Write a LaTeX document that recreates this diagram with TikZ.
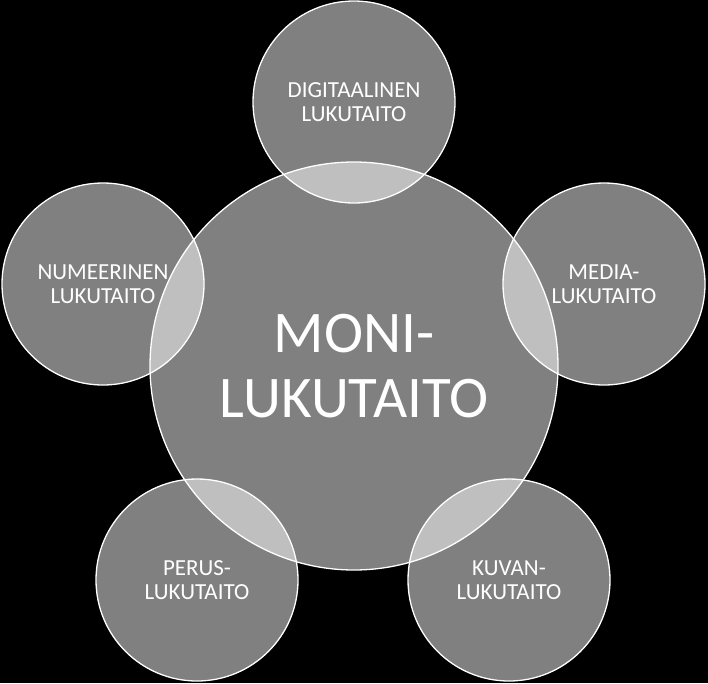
\documentclass[tikz,border=0pt]{standalone}
\usepackage{fontspec}
\setmainfont{Carlito}
\begin{document}
\begin{tikzpicture}[x=1pt,y=-1pt,
  bubble/.style={circle,draw=white,line width=1.3pt,fill=white,fill opacity=0.5,text opacity=1,text=white,inner sep=0pt,align=center},
  big/.style={bubble,minimum size=408pt,font=\fontsize{59}{65}\selectfont},
  small/.style={bubble,minimum size=202pt,font=\fontsize{23}{24}\selectfont}]
\fill[black] (0,0) rectangle (708,683);
\useasboundingbox (0,0) rectangle (708,683);
\node[big] (c) at (354,366) {MONI-\\LUKUTAITO};
\node[small] (d) at (354,102) {DIGITAALINEN\\LUKUTAITO};
\node[small] (n) at (103,284) {NUMEERINEN\\LUKUTAITO};
\node[small] (m) at (604,284) {MEDIA-\\LUKUTAITO};
\node[small] (p) at (197,580) {PERUS-\\LUKUTAITO};
\node[small] (k) at (509,580) {KUVAN-\\LUKUTAITO};
\end{tikzpicture}
\end{document}
